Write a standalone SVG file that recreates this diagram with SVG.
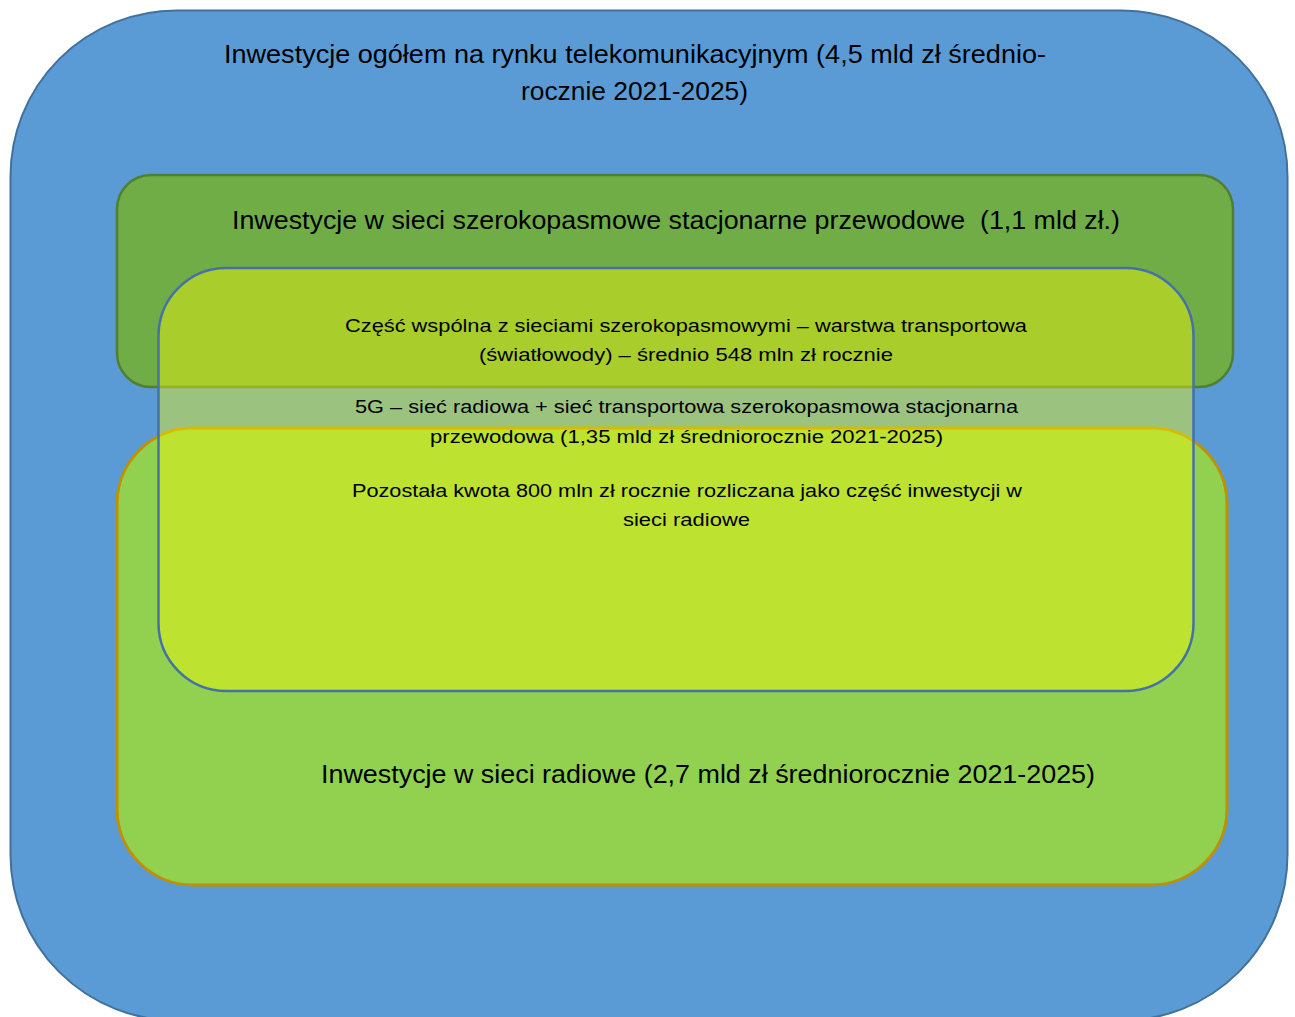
<svg xmlns="http://www.w3.org/2000/svg" width="1295" height="1017" viewBox="0 0 1295 1017">
  <style>
    text { font-family: "Liberation Sans", Arial, sans-serif; fill: #000; white-space: pre; }
    .big { font-size: 25px; }
    .mid { font-size: 26px; }
    .small { font-size: 17.5px; }
  </style>
  <g id="node-total">
    <rect x="10.5" y="10.5" width="1277" height="1010" rx="166" ry="166" fill="#5B9BD5" stroke="#41719C" stroke-width="2"/>
    <text class="big" x="224" y="63" textLength="822" lengthAdjust="spacingAndGlyphs">Inwestycje ogółem na rynku telekomunikacyjnym (4,5 mld zł średnio-</text>
    <text class="big" x="521" y="100" textLength="227" lengthAdjust="spacingAndGlyphs">rocznie 2021-2025)</text>
  </g>
  <g id="node-fixed">
    <rect x="117" y="175" width="1116" height="212" rx="34" ry="34" fill="#70AD47" stroke="#507E32" stroke-width="2.5"/>
    <text class="mid" x="232" y="229" textLength="888" lengthAdjust="spacingAndGlyphs" xml:space="preserve">Inwestycje w sieci szerokopasmowe stacjonarne przewodowe  (1,1 mld zł.)</text>
  </g>
  <g id="node-radio">
    <rect x="117" y="428" width="1110" height="457" rx="76" ry="76" fill="#92D050" stroke="#BF9000" stroke-width="3"/>
    <text class="mid" x="321" y="783" textLength="774" lengthAdjust="spacingAndGlyphs">Inwestycje w sieci radiowe (2,7 mld zł średniorocznie 2021-2025)</text>
  </g>
  <g id="node-5g">
    <rect x="158.5" y="268" width="1035" height="423" rx="68" ry="68" fill="#FFFC00" fill-opacity="0.4" stroke="#4472A8" stroke-width="2.5"/>
    <text class="small" x="345" y="332" textLength="682" lengthAdjust="spacingAndGlyphs">Część wspólna z sieciami szerokopasmowymi – warstwa transportowa</text>
    <text class="small" x="479" y="361" textLength="414" lengthAdjust="spacingAndGlyphs">(światłowody) – średnio 548 mln zł rocznie</text>
    <text class="small" x="355" y="413" textLength="663" lengthAdjust="spacingAndGlyphs">5G – sieć radiowa + sieć transportowa szerokopasmowa stacjonarna</text>
    <text class="small" x="430" y="443" textLength="513" lengthAdjust="spacingAndGlyphs">przewodowa (1,35 mld zł średniorocznie 2021-2025)</text>
    <text class="small" x="352" y="497" textLength="670" lengthAdjust="spacingAndGlyphs">Pozostała kwota 800 mln zł rocznie rozliczana jako część inwestycji w</text>
    <text class="small" x="623" y="526" textLength="127" lengthAdjust="spacingAndGlyphs">sieci radiowe</text>
  </g>
  <g id="connectors"></g>
</svg>
